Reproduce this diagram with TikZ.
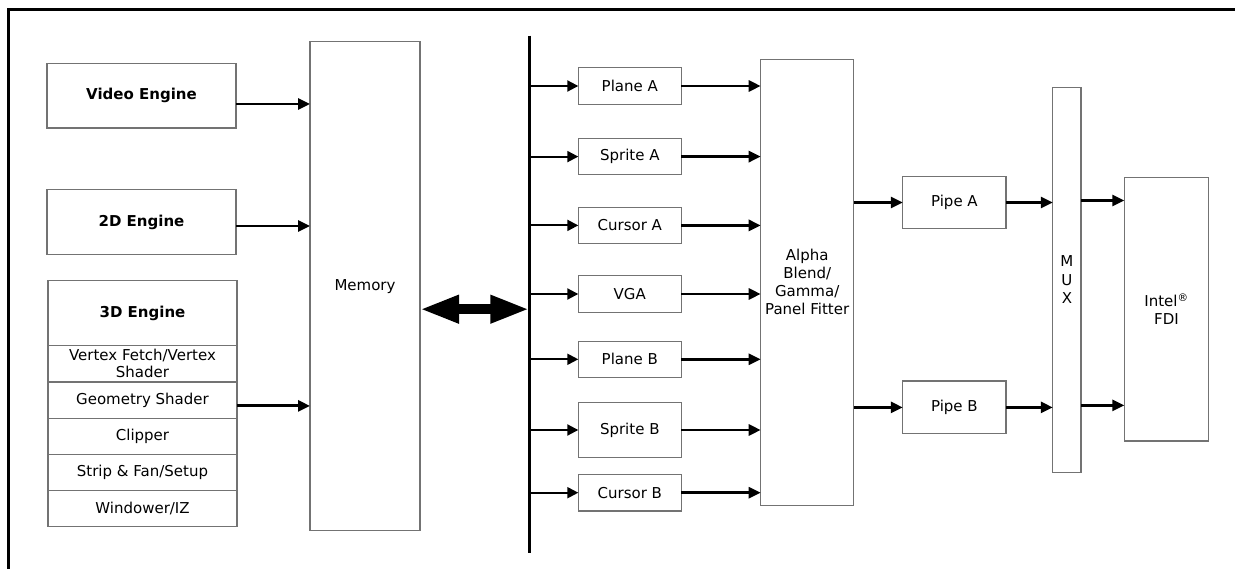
\documentclass[tikz,border=0pt]{standalone}
\usepackage{fontspec}
\setmainfont{DejaVu Sans}
\usetikzlibrary{arrows.meta,positioning}
\begin{document}
\begin{tikzpicture}[x=1pt,y=-1pt,
    blk/.style={draw=black!55,line width=1.2pt,inner sep=0pt,outer sep=0pt,align=center,font=\fontsize{15}{18}\selectfont},
    bold/.style={font=\fontsize{15}{18}\selectfont\bfseries},
    sub/.style={blk,minimum width=189pt,minimum height=36.2pt},
    arr/.style={line width=2.8pt,-{Triangle[length=12pt,width=11pt]}},
    busarr/.style={line width=2pt,-{Triangle[length=11pt,width=11pt]}}]
  \useasboundingbox (0,0) rectangle (1235,569);
  \draw[line width=2.5pt] (8.5,569) -- (8.5,9.5) -- (1235,9.5);
  % engines and memory
  \node[blk,bold,minimum width=189pt,minimum height=64.5pt] (video) at (141.5,95.75) {Video Engine};
  \node[blk,bold,minimum width=189pt,minimum height=65pt] (twod) at (141.5,222) {2D Engine};
  \node[blk,bold,minimum width=189pt,minimum height=65.3pt] (threed) at (142.5,313.15) {3D Engine};
  \node[sub,below=0pt of threed,font=\fontsize{15}{17}\selectfont] (vfetch) {Vertex Fetch/Vertex\\Shader};
  \node[sub,below=0pt of vfetch] (geom) {Geometry Shader};
  \node[sub,below=0pt of geom] (clip) {Clipper};
  \node[sub,below=0pt of clip] (strip) {Strip \& Fan/Setup};
  \node[sub,below=0pt of strip] (windo) {Windower/IZ};
  \node[blk,minimum width=110pt,minimum height=489pt] (mem) at (365,286.2) {Memory};
  \draw[arr] ([yshift=-8.25pt]video.east) -- ([yshift=-8.25pt]video.east -| mem.west);
  \draw[arr] ([yshift=-4pt]twod.east) -- ([yshift=-4pt]twod.east -| mem.west);
  \draw[arr] ([yshift=-5.8pt]geom.east) -- ([yshift=-5.8pt]geom.east -| mem.west);
  % bus
  \coordinate (bustop) at (529.3,35.6);
  \coordinate (busbot) at (529.3,552.5);
  \coordinate (dbl) at (475,309.2);
  \draw[line width=3.5pt] (bustop) -- (busbot);
  \draw[line width=9.5pt,{Triangle[length=39pt,width=26pt]}-{Triangle[length=39pt,width=26pt]}] (mem.east |- dbl) -- (dbl -| bustop);
  % planes
  \node[blk,minimum width=93pt,minimum height=446.3pt] (alpha) at (807.2,282.3) {Alpha\\Blend/\\Gamma/\\Panel Fitter};
  \foreach \nm/\txt/\yy/\hh in {plA/Plane A/86/36.3, sprA/Sprite A/156.6/36.6, curA/Cursor A/225.4/36.3,
      vga/VGA/294/36.3, plB/Plane B/359.3/36.3, sprB/Sprite B/430/54.5, curB/Cursor B/492.7/36.5}
  {
    \node[blk,minimum width=103pt,minimum height=\hh pt] (\nm) at (629.8,\yy) {\txt};
    \draw[busarr] (\nm.west -| bustop) -- (\nm.west);
    \draw[arr] (\nm.east) -- (\nm.east -| alpha.west);
  }
  % pipes, mux, fdi
  \node[blk,minimum width=103.3pt,minimum height=52.6pt] (pipeA) at (954.4,202.5) {Pipe A};
  \node[blk,minimum width=103.3pt,minimum height=52.6pt] (pipeB) at (954.4,407.4) {Pipe B};
  \node[blk,minimum width=28.3pt,minimum height=385pt,font=\fontsize{15}{18.5}\selectfont] (mux) at (1066.9,280) {M\\U\\X};
  \node[blk,minimum width=84.4pt,minimum height=263pt] (fdi) at (1166.5,309.4) {Intel\textsuperscript{\textregistered}\\FDI};
  \draw[arr] (pipeA.west -| alpha.east) -- (pipeA.west);
  \draw[arr] (pipeB.west -| alpha.east) -- (pipeB.west);
  \draw[arr] (pipeA.east) -- (pipeA.east -| mux.west);
  \draw[arr] (pipeB.east) -- (pipeB.east -| mux.west);
  \draw[arr] ([yshift=2pt]pipeA.east -| mux.east) -- ([yshift=2pt]pipeA.east -| fdi.west);
  \draw[arr] ([yshift=2pt]pipeB.east -| mux.east) -- ([yshift=2pt]pipeB.east -| fdi.west);
\end{tikzpicture}
\end{document}
